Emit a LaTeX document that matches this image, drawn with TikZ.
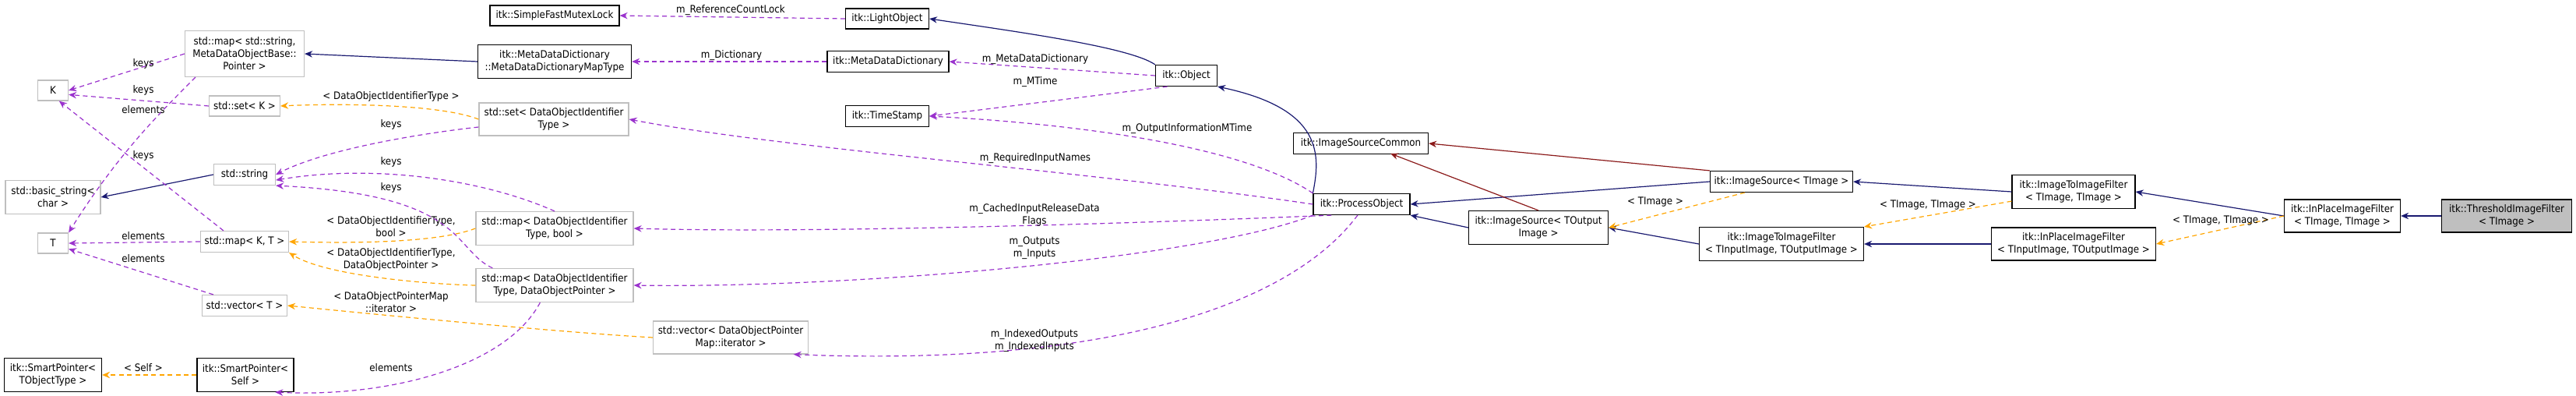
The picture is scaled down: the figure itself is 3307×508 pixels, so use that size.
\documentclass[tikz,border=0pt]{standalone}
\usepackage{fontspec}
\setmainfont{DejaVu Sans Condensed}
\usetikzlibrary{arrows.meta}
\definecolor{purp}{HTML}{9A32CD}
\definecolor{navy}{HTML}{191970}
\definecolor{dred}{HTML}{8B1A1A}
\definecolor{orng}{HTML}{FFA500}
\definecolor{gbord}{HTML}{BFBFBF}
\begin{document}
\begin{tikzpicture}[x=0.5pt,y=-0.5pt,
  font=\fontsize{6.6}{8}\selectfont,
  nd/.style 2 args={draw=black,line width=0.6pt,fill=white,inner sep=0pt,align=center,minimum width=#1*0.5pt,minimum height=#2*0.5pt},
  gd/.style 2 args={nd={#1}{#2},draw=gbord},
  lb/.style={inner sep=0pt,align=center},
  tip/.style={-{Stealth[length=5pt,width=4.2pt]}},
  mem/.style={tip,draw=purp,dash pattern=on 3pt off 2.2pt,line width=0.6pt},
  tpl/.style={tip,draw=orng,dash pattern=on 3pt off 2.2pt,line width=0.6pt},
  inh/.style={tip,draw=navy,line width=0.6pt},
  pinh/.style={tip,draw=dred,line width=0.6pt}]
\useasboundingbox (0,0) rectangle (3307,508);
% nodes
\node[nd={166}{26}] (sfml) at (712,20) {itk::SimpleFastMutexLock};
\node[gd={153}{59}] (mstr) at (314,69) {std::map\textless{} std::string,\\MetaDataObjectBase::\\Pointer \textgreater};
\node[nd={197}{43}] (mddmt) at (712,79) {itk::MetaDataDictionary\\::MetaDataDictionaryMapType};
\node[gd={39}{26}] (K) at (68,116) {K};
\node[gd={91}{26}] (setK) at (314,136) {std::set\textless{} K \textgreater};
\node[gd={192}{42}] (setD) at (711,153) {std::set\textless{} DataObjectIdentifier\\Type \textgreater};
\node[gd={79}{27}] (str) at (314,224) {std::string};
\node[gd={122}{43}] (bstr) at (68,253) {std::basic\_string\textless\\char \textgreater};
\node[gd={202}{43}] (mDb) at (712,293) {std::map\textless{} DataObjectIdentifier\\Type, bool \textgreater};
\node[gd={39}{26}] (T) at (68,312) {T};
\node[gd={113}{27}] (mKT) at (314,310) {std::map\textless{} K, T \textgreater};
\node[gd={202}{43}] (mDP) at (712,366) {std::map\textless{} DataObjectIdentifier\\Type, DataObjectPointer \textgreater};
\node[gd={109}{27}] (vT) at (314,392) {std::vector\textless{} T \textgreater};
\node[nd={125}{43}] (spT) at (68,481) {itk::SmartPointer\textless\\TObjectType \textgreater};
\node[nd={124}{43}] (spS) at (315,481) {itk::SmartPointer\textless\\Self \textgreater};
\node[nd={107}{26}] (lo) at (1139,24) {itk::LightObject};
\node[nd={156}{27}] (mdd) at (1140,79) {itk::MetaDataDictionary};
\node[nd={79}{27}] (obj) at (1523,97) {itk::Object};
\node[nd={107}{27}] (ts) at (1139,149) {itk::TimeStamp};
\node[gd={199}{42}] (vit) at (938,433) {std::vector\textless{} DataObjectPointer\\Map::iterator \textgreater};
\node[nd={173}{27}] (isc) at (1747,184) {itk::ImageSourceCommon};
\node[nd={124}{27}] (po) at (1748,262) {itk::ProcessObject};
\node[nd={179}{43}] (isO) at (1975,292) {itk::ImageSource\textless{} TOutput\\Image \textgreater};
\node[nd={183}{27}] (isI) at (2287,233) {itk::ImageSource\textless{} TImage \textgreater};
\node[nd={211}{43}] (iifO) at (2287,313) {itk::ImageToImageFilter\\\textless{} TInputImage, TOutputImage \textgreater};
\node[nd={158}{43}] (iifI) at (2662,246) {itk::ImageToImageFilter\\\textless{} TImage, TImage \textgreater};
\node[nd={211}{42}] (ipO) at (2662,313) {itk::InPlaceImageFilter\\\textless{} TInputImage, TOutputImage \textgreater};
\node[nd={149}{42}] (ipI) at (3007,277) {itk::InPlaceImageFilter\\\textless{} TImage, TImage \textgreater};
\node[nd={167}{42},fill=gbord] (thr) at (3218,277) {itk::ThresholdImageFilter\\\textless{} TImage \textgreater};
% inheritance
\draw[inh] (mddmt.west) -- (mstr.east);
\draw[inh] (str.west) -- (bstr.east);
\draw[inh] (obj.north west) .. controls (1450,60) and (1300,40) .. (lo.east);
\draw[inh] (po.north west) .. controls (1695,200) and (1700,140) .. (obj.south east);
\draw[inh] (isI.west) -- (po.east);
\draw[inh] (isO.west) -- (po.south east);
\draw[inh] (iifO.west) -- (isO.east);
\draw[inh] (iifI.west) -- (isI.east);
\draw[inh] (ipO.west) -- (iifO.east);
\draw[inh] (ipI.west) -- (iifI.east);
\draw[inh] (thr.west) -- (ipI.east);
\draw[pinh] (isI.north west) -- (isc.east);
\draw[pinh] (isO.north) -- (1785,197);
% template
\draw[tpl] (isI.south west)++(45,0) -- (isO.east);
\draw[tpl] (iifI.south west)++(0,-10) -- (iifO.north east);
\draw[tpl] (ipI.west) -- (ipO.east);
\node[lb] (l38) at (2125,259) {\textless{} TImage \textgreater};
\node[lb] (l39) at (2475,263) {\textless{} TImage, TImage \textgreater};
\node[lb] (l40) at (2851,283) {\textless{} TImage, TImage \textgreater};
\draw[tpl] (setD.west) .. controls (560,132) and (420,133) .. (setK.east);
\draw[tpl] (mDb.west) .. controls (560,312) and (450,312) .. (mKT.east);
\draw[tpl] (mDP.west) .. controls (560,365) and (420,355) .. (mKT.south east);
\draw[tpl] (vit.west) .. controls (700,425) and (450,400) .. (vT.east);
\draw[tpl] (spS.west) -- (spT.east);
\node[lb] (l16) at (502,124) {\textless{} DataObjectIdentifierType \textgreater};
\node[lb] (l20) at (502,291) {\textless{} DataObjectIdentifierType,\\bool \textgreater};
\node[lb] (l21) at (502,333) {\textless{} DataObjectIdentifierType,\\DataObjectPointer \textgreater};
\node[lb] (l22) at (502,388) {\textless{} DataObjectPointerMap\\::iterator \textgreater};
\node[lb] (l24) at (184,472) {\textless{} Self \textgreater};
% members
\draw[mem] (lo.west) -- (sfml.east);
\draw[mem] (mdd.west) -- (mddmt.east);
\draw[mem] (obj.west) -- (mdd.east);
\draw[mem] (obj.210) -- (ts.east);
\draw[mem] (po.north west) .. controls (1600,190) and (1400,160) .. (ts.east);
\draw[mem] (po.west) .. controls (1400,220) and (1000,190) .. (setD.east);
\draw[mem] (po.200) .. controls (1500,285) and (1050,300) .. (mDb.east);
\draw[mem] (po.south west) .. controls (1550,330) and (1100,370) .. (mDP.east);
\draw[mem] (po.-110) .. controls (1650,400) and (1400,470) .. (vit.-15);
\node[lb] (m1) at (938,13) {m\_ReferenceCountLock};
\node[lb] (m2) at (939,71) {m\_Dictionary};
\node[lb] (m3) at (1329,76) {m\_MetaDataDictionary};
\node[lb] (m4) at (1329,105) {m\_MTime};
\node[lb] (m5) at (1524,165) {m\_OutputInformationMTime};
\node[lb] (m6) at (1329,203) {m\_RequiredInputNames};
\node[lb] (m7) at (1328,276) {m\_CachedInputReleaseData\\Flags};
\node[lb] (m8) at (1328,318) {m\_Outputs\\m\_Inputs};
\node[lb] (m9) at (1328,437) {m\_IndexedOutputs\\m\_IndexedInputs};
\draw[mem] (mstr.west) -- (K.east);
\draw[mem] (setK.west) -- (K.-15);
\draw[mem] (mstr.south west)++(14,0) .. controls (200,150) and (150,200) .. (T.north east);
\draw[mem] (mKT.north west)++(30,0) -- (K.-60);
\draw[mem] (mKT.west) -- (T.east);
\draw[mem] (vT.north west)++(15,0) -- (T.-20);
\draw[mem] (setD.west)++(0,10) .. controls (550,170) and (420,190) .. (str.east);
\draw[mem] (mDb.north) .. controls (620,230) and (480,210) .. (str.-10);
\draw[mem] (mDP.north west)++(22,0) .. controls (580,320) and (600,250) .. (str.south east);
\draw[mem] (mDP.south west)++(83,0) .. controls (650,470) and (500,510) .. (spS.-30);
\node[lb] (k1) at (184,82) {keys};
\node[lb] (k2) at (184,116) {keys};
\node[lb] (e1) at (184,141) {elements};
\node[lb] (k3) at (184,200) {keys};
\node[lb] (e2) at (184,303) {elements};
\node[lb] (e3) at (184,332) {elements};
\node[lb] (k4) at (502,160) {keys};
\node[lb] (k5) at (502,208) {keys};
\node[lb] (k6) at (502,241) {keys};
\node[lb] (e4) at (502,472) {elements};
\end{tikzpicture}
\end{document}
